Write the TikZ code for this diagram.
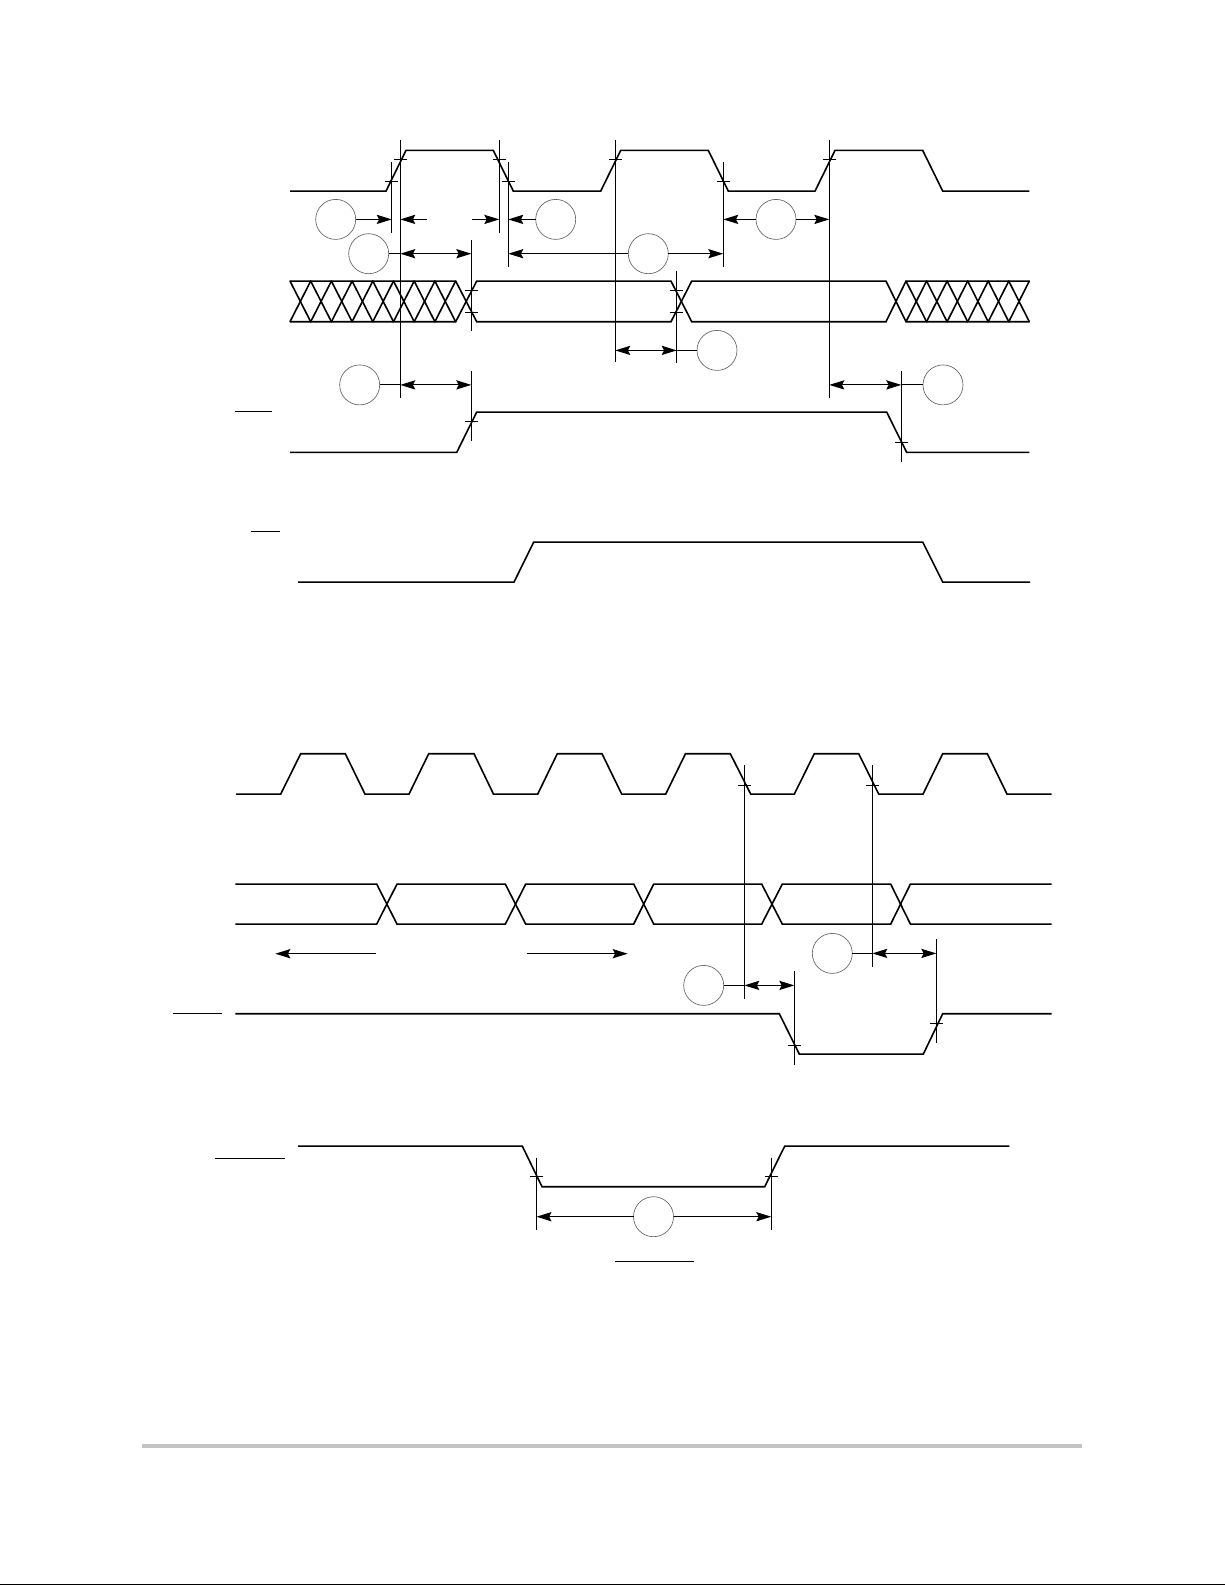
\documentclass[tikz,border=0pt]{standalone}
\usetikzlibrary{arrows.meta}
\tikzset{
  x=0.5pt,y=-0.5pt,
  sig/.style={line width=0.8pt,line join=miter,line cap=butt,black},
  hatch/.style={line width=0.8pt,line cap=round,black},
  guide/.style={line width=0.55pt,black},
  tickmark/.style={line width=0.45pt,black},
  bubble/.style={circle,draw=black!65,line width=0.3pt,minimum size=20pt,inner sep=0pt,outer sep=0pt},
  dimline/.style={line width=0.5pt,black},
  tip/.style={dimline,-{Stealth[length=7.5pt,width=4.6pt,inset=1.2pt]}},
  tipboth/.style={dimline,{Stealth[length=7.5pt,width=4.6pt,inset=1.2pt]}-{Stealth[length=7.5pt,width=4.6pt,inset=1.2pt]}},
  overbar/.style={line width=0.45pt,black}
}
\begin{document}
\begin{tikzpicture}
\path[use as bounding box,fill=white] (0,-0.4) rectangle (1225,1584.6);

% upper diagram: clock
\draw[sig] (290,190.7) -- (386,190.7) -- (406,150) -- (493.3,150) -- (513.3,190.7) -- (600.7,190.7) -- (620.7,150) -- (708.3,150) -- (728.3,190.7) -- (815,190.7) -- (835,150) -- (922.7,150) -- (942.7,190.7) -- (1029.3,190.7);

% upper diagram: data bus
\draw[sig] (290,280.7) -- (455.7,280.7) -- (476.7,321.3) -- (671,321.3) -- (691.7,280.7) -- (886,280.7) -- (906,321.3) -- (1029.3,321.3);
\draw[sig] (290,321.3) -- (455.7,321.3) -- (476.7,280.7) -- (671,280.7) -- (691.7,321.3) -- (886,321.3) -- (906,280.7) -- (1029.3,280.7);
\foreach \i in {0,...,7}{
  \pgfmathsetmacro{\xa}{290+20.7*\i}
  \pgfmathsetmacro{\xb}{310.7+20.7*\i}
  \draw[hatch] (\xa,280.7) -- (\xb,321.3);
  \draw[hatch] (\xa,321.3) -- (\xb,280.7);
}
\foreach \i in {0,...,5}{
  \pgfmathsetmacro{\xa}{906+20.55*\i}
  \pgfmathsetmacro{\xb}{926.55+20.55*\i}
  \draw[hatch] (\xa,280.7) -- (\xb,321.3);
  \draw[hatch] (\xa,321.3) -- (\xb,280.7);
}

% upper diagram: control signals
\draw[sig] (290,452) -- (456.7,452) -- (476.7,411.7) -- (886.7,411.7) -- (906.7,452) -- (1029.3,452);
\draw[sig] (298,581.7) -- (514,581.7) -- (533.7,541.7) -- (922.7,541.7) -- (942.7,581.7) -- (1030,581.7);
\draw[overbar] (235,411) -- (272,411);
\draw[overbar] (251,531) -- (280,531);

% upper diagram: guides
\foreach \x/\ya/\yb in {391.7/161.7/232.7, 400.3/140/397.3, 499.3/140/232.7, 508.3/162/266.7, 471.3/240/330.7, 471.3/371/440.7, 615.3/140/362, 723.3/162/266.7, 829.3/140/397.3, 676.7/271/362.3, 901.3/371/461.7}
  \draw[guide] (\x,\ya) -- (\x,\yb);
\foreach \x/\y in {400.3/159.3, 391.7/181.3, 499.3/159.3, 508.3/181.3, 615.3/159.3, 723.3/181.3, 829.3/159.3, 471.3/290.3, 471.3/312.3, 676.7/290.3, 676.7/312.3, 471.3/421.3, 901.3/442.3}
  \draw[tickmark] ({\x-6.5},\y) -- ({\x+6.5},\y);

% upper diagram: bubbles and dimension arrows
\node[bubble] (c1) at (335.7,219) {};
\node[bubble] (c2) at (555.7,219) {};
\node[bubble] (c3) at (368.7,253.3) {};
\node[bubble] (c4) at (648.3,253.3) {};
\node[bubble] (c5) at (776,219) {};
\node[bubble] (c6) at (717,350) {};
\node[bubble] (c7) at (359.7,384.5) {};
\node[bubble] (c8) at (943,384.5) {};

\coordinate (a1) at (391.7,219);
\coordinate (a2t) at (426.7,219);
\coordinate (a2) at (400.3,219);
\coordinate (a3t) at (472,219);
\coordinate (a3) at (499.3,219);
\coordinate (a4) at (508.3,219);
\coordinate (b1) at (400.3,253.3);
\coordinate (b2) at (471.3,253.3);
\coordinate (b3) at (508.3,253.3);
\coordinate (b4) at (723.3,253.3);
\coordinate (d1) at (723.3,219);
\coordinate (d2) at (829.3,219);
\coordinate (e1) at (615.3,350);
\coordinate (e2) at (676.7,350);
\coordinate (f1) at (400.3,384.5);
\coordinate (f2) at (471.3,384.5);
\coordinate (g1) at (829.3,384.5);
\coordinate (g2) at (901.3,384.5);

\draw[tip] (c1) -- (a1);
\draw[tip] (a2t) -- (a2);
\draw[tip] (a3t) -- (a3);
\draw[tip] (c2) -- (a4);
\draw[dimline] (c3) -- (b1);
\draw[tipboth] (b1) -- (b2);
\draw[tip] (c4) -- (b3);
\draw[tip] (c4) -- (b4);
\draw[tip] (c5) -- (d1);
\draw[tip] (c5) -- (d2);
\draw[dimline] (c6) -- (e2);
\draw[tipboth] (e1) -- (e2);
\draw[dimline] (c7) -- (f1);
\draw[tipboth] (f1) -- (f2);
\draw[dimline] (c8) -- (g2);
\draw[tipboth] (g1) -- (g2);

% lower diagram: clock
\draw[sig] (236,793.7) -- (280.7,793.7) -- (300.7,753.3) -- (345.3,753.3) -- (365,793.7) -- (409,793.7) -- (428.7,753.3) -- (474,753.3) -- (493.5,793.7) -- (537.7,793.7) -- (557.3,753.3) -- (602,753.3) -- (621.7,793.7) -- (665.7,793.7) -- (685.5,753.3) -- (730.3,753.3) -- (750.7,793.7) -- (794.3,793.7) -- (814.3,753.3) -- (858.7,753.3) -- (878.7,793.7) -- (923,793.7) -- (942.7,753.3) -- (987.3,753.3) -- (1007,793.7) -- (1051.7,793.7);

% lower diagram: data bus
\draw[sig] (235.3,883.7) -- (376.7,883.7) -- (397,923.7) -- (505.3,923.7) -- (525.7,883.7) -- (633.7,883.7) -- (653.7,923.7) -- (761.7,923.7) -- (782.3,883.7) -- (890.7,883.7) -- (910.4,923.7) -- (1051.7,923.7);
\draw[sig] (235.3,923.7) -- (376.7,923.7) -- (397,883.7) -- (505.3,883.7) -- (525.7,923.7) -- (633.7,923.7) -- (653.7,883.7) -- (761.7,883.7) -- (782.3,923.7) -- (890.7,923.7) -- (910.4,883.7) -- (1051.7,883.7);

% lower diagram: control signals
\draw[sig] (235.3,1013.3) -- (779.3,1013.3) -- (799.3,1053.7) -- (923.3,1053.7) -- (942.7,1013.3) -- (1051.7,1013.3);
\draw[sig] (298,1145.7) -- (522.3,1145.7) -- (542,1186.3) -- (764.7,1186.3) -- (784.7,1145.7) -- (1009.3,1145.7);
\draw[overbar] (173,1013.3) -- (222,1013.3);
\draw[overbar] (215,1158.3) -- (285,1158.3);
\draw[overbar] (615.2,1261.3) -- (693.9,1261.3);

% lower diagram: guides
\foreach \x/\ya/\yb in {744.3/765/998.3, 872.3/765/966.7, 794.3/971/1064.3, 936.3/939/1042.7, 536.5/1157.3/1229.3, 771.3/1157.3/1229.3}
  \draw[guide] (\x,\ya) -- (\x,\yb);
\foreach \x/\y in {744.3/785, 872.3/785, 794.3/1045.3, 936.3/1023.3, 536.5/1176.5, 771.3/1176.5}
  \draw[tickmark] ({\x-6.5},\y) -- ({\x+6.5},\y);

% lower diagram: bubbles and dimension arrows
\node[bubble] (c9) at (703.7,985) {};
\node[bubble] (c10) at (832.3,953) {};
\node[bubble] (c11) at (653.5,1216.3) {};

\coordinate (h1) at (744.3,985);
\coordinate (h2) at (794.3,985);
\coordinate (i1) at (872.3,953);
\coordinate (i2) at (936.3,953);
\coordinate (j1) at (536.5,1216.3);
\coordinate (j2) at (771.3,1216.3);
\coordinate (k1t) at (376,953.3);
\coordinate (k1) at (275.3,953.3);
\coordinate (k2t) at (527,953.3);
\coordinate (k2) at (627.7,953.3);

\draw[dimline] (c9) -- (h1);
\draw[tipboth] (h1) -- (h2);
\draw[dimline] (c10) -- (i1);
\draw[tipboth] (i1) -- (i2);
\draw[tip] (c11) -- (j1);
\draw[tip] (c11) -- (j2);
\draw[tip] (k1t) -- (k1);
\draw[tip] (k2t) -- (k2);

% page furniture
\fill[black!23] (142,1443.7) rectangle (1082,1448);
\fill[black] (0,1583.5) rectangle (1225,1584.6);
\end{tikzpicture}
\end{document}
